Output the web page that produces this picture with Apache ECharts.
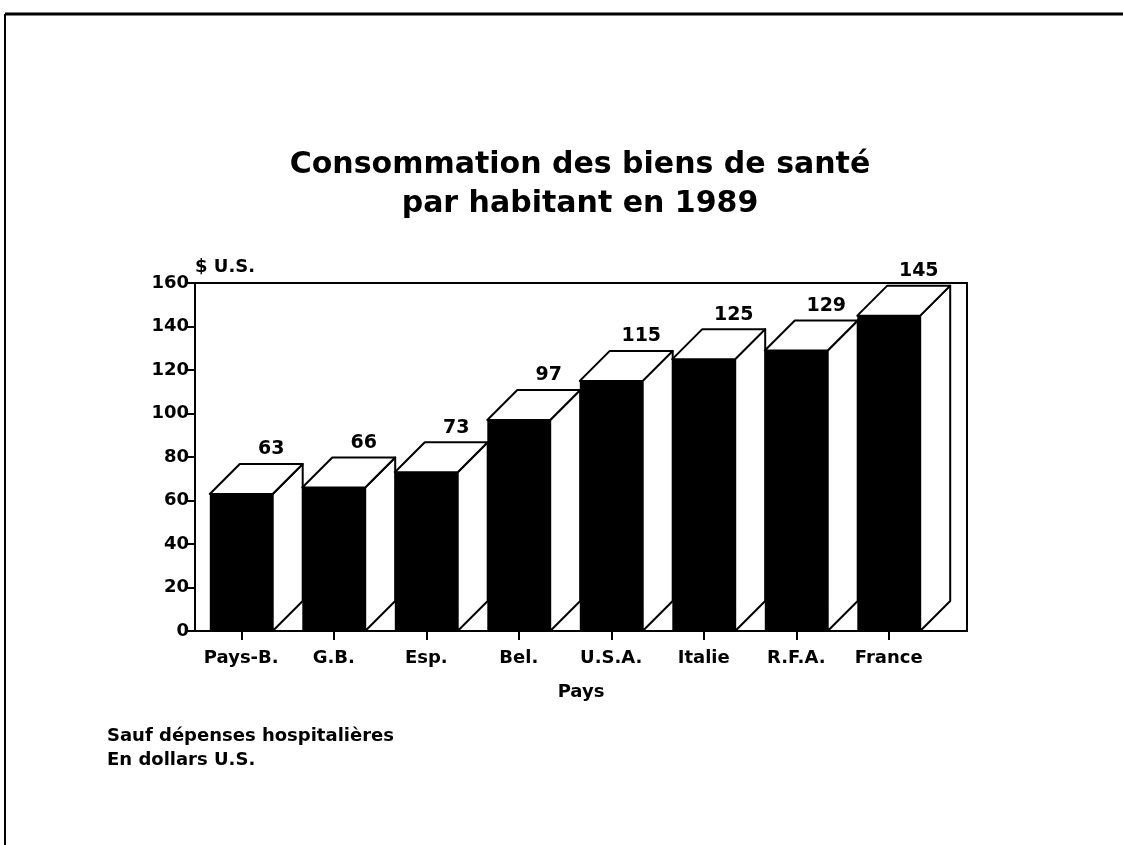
<!DOCTYPE html>
<html>
<head>
<meta charset="utf-8">
<script src="https://cdn.jsdelivr.net/npm/echarts@6/dist/echarts.min.js"></script>
<style>
html,body{margin:0;padding:0;background:#fff;}
#chart{width:1123px;height:845px;}
</style>
</head>
<body>
<div id="chart"></div>
<script>
// ---- data ----
var categories = ['Pays-B.', 'G.B.', 'Esp.', 'Bel.', 'U.S.A.', 'Italie', 'R.F.A.', 'France'];
var values = [63, 66, 73, 97, 115, 125, 129, 145];
var yTicks = [0, 20, 40, 60, 80, 100, 120, 140, 160];
var titleLines = ['Consommation des biens de santé', 'par habitant en 1989'];
var notes = ['Sauf dépenses hospitalières', 'En dollars U.S.'];

var FONT = '"DejaVu Sans", "Liberation Sans", sans-serif';
var BAR_RATIO = 0.68;
var DEPTH = 30;

function renderItem(params, api) {
  var idx = api.value(0), v = api.value(1);
  var top = api.coord([idx, v]);
  var base = api.coord([idx, 0]);
  var w = api.size([1, 0])[0] * BAR_RATIO;
  var x1 = top[0] - w / 2, x2 = top[0] + w / 2, yT = top[1], y0 = base[1];
  var d = DEPTH;
  var face = { fill: '#fff', stroke: '#000', lineWidth: 2, lineJoin: 'round' };
  return {
    type: 'group',
    children: [
      { type: 'polygon', shape: { points: [[x2, yT], [x2 + d, yT - d], [x2 + d, y0 - d], [x2, y0]] }, style: face },
      { type: 'polygon', shape: { points: [[x1, yT], [x1 + d, yT - d], [x2 + d, yT - d], [x2, yT]] }, style: face },
      { type: 'rect', shape: { x: x1, y: yT, width: w, height: y0 - yT }, style: { fill: '#000' } },
      { type: 'text', style: { text: String(v), x: top[0] + d, y: yT - d - 5, align: 'center', verticalAlign: 'bottom',
          font: 'bold 19px ' + FONT, fill: '#000' } }
    ]
  };
}

var chart = echarts.init(document.getElementById('chart'), null, { renderer: 'canvas' });
chart.setOption({
  backgroundColor: '#fff',
  animation: false,
  title: {
    text: titleLines.join('\n'),
    left: 580, top: 146, textAlign: 'center', padding: 0,
    textStyle: { fontFamily: FONT, fontWeight: 'bold', fontSize: 30, lineHeight: 39, color: '#000' }
  },
  grid: [
    { left: 195, top: 283, width: 740, height: 348, show: false },
    { left: 195, top: 283, width: 772, height: 348, show: true, borderColor: '#000', borderWidth: 2, backgroundColor: 'transparent' }
  ],
  xAxis: [
    {
      type: 'category', gridIndex: 0, data: categories, boundaryGap: true,
      axisLine: { show: true, lineStyle: { color: '#000', width: 2 } },
      axisTick: { show: true, alignWithLabel: true, interval: 0, length: 9, lineStyle: { color: '#000', width: 2 } },
      axisLabel: { interval: 0, color: '#000', fontFamily: FONT, fontWeight: 'bold', fontSize: 18, margin: 18 },
      splitLine: { show: false }
    },
    {
      type: 'value', gridIndex: 1, min: 0, max: 1, show: true,
      axisLine: { show: false }, axisTick: { show: false }, axisLabel: { show: false }, splitLine: { show: false },
      name: 'Pays', nameLocation: 'middle', nameGap: 52,
      nameTextStyle: { color: '#000', fontFamily: FONT, fontWeight: 'bold', fontSize: 18 }
    }
  ],
  yAxis: [
    {
      type: 'value', gridIndex: 0, min: yTicks[0], max: yTicks[yTicks.length - 1], interval: 20,
      axisLine: { show: true, lineStyle: { color: '#000', width: 2 } },
      axisTick: { show: true, length: 9, lineStyle: { color: '#000', width: 2 } },
      axisLabel: { color: '#000', fontFamily: FONT, fontWeight: 'bold', fontSize: 18, margin: 6 },
      splitLine: { show: false },
      name: '$ U.S.', nameLocation: 'end', nameGap: 7,
      nameTextStyle: { color: '#000', fontFamily: FONT, fontWeight: 'bold', fontSize: 18, align: 'left' }
    },
    { type: 'value', gridIndex: 1, min: 0, max: 1, show: false }
  ],
  series: [{
    type: 'custom', xAxisIndex: 0, yAxisIndex: 0,
    renderItem: renderItem,
    encode: { x: 0, y: 1 },
    data: categories.map(function (c, i) { return [i, values[i]]; }),
    clip: false, z: 3
  }],
  graphic: [
    { type: 'line', shape: { x1: 5, y1: 14, x2: 1123, y2: 14 }, style: { stroke: '#000', lineWidth: 3 } },
    { type: 'line', shape: { x1: 5, y1: 14, x2: 5, y2: 845 }, style: { stroke: '#000', lineWidth: 2 } },
    { type: 'text', left: 107, top: 724, style: { text: notes.join('\n'), font: 'bold 18px ' + FONT, lineHeight: 24, fill: '#000' } }
  ]
});
</script>
</body>
</html>
